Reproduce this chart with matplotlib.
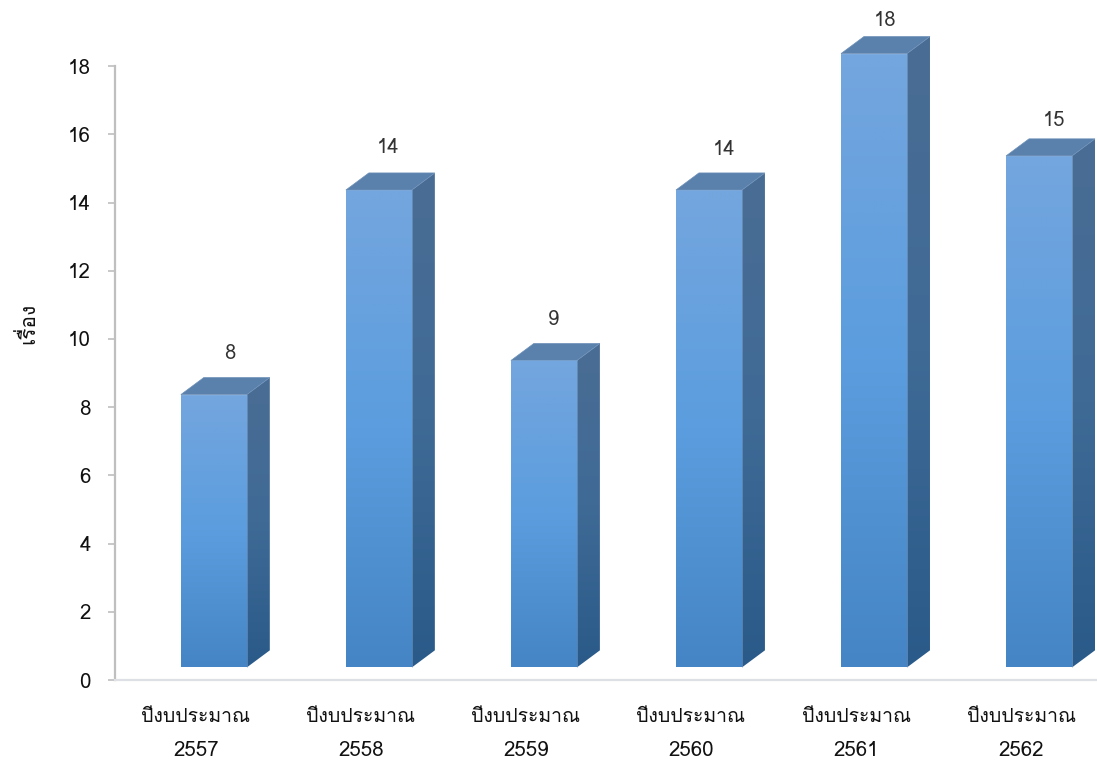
import numpy as np
import matplotlib
matplotlib.use('Agg')
import matplotlib.pyplot as plt
from matplotlib.colors import LinearSegmentedColormap
from matplotlib.patches import Polygon

plt.rcParams['font.family'] = ['Loma', 'Noto Sans Thai', 'DejaVu Sans']

years = ['2557', '2558', '2559', '2560', '2561', '2562']
values = [8, 14, 9, 14, 18, 15]
cat_label = 'ปีงบประมาณ'
y_label = 'เรื่อง'
y_ticks = [0, 2, 4, 6, 8, 10, 12, 14, 16, 18]

# value labels were hand placed in the original, offsets in pixels
label_off_x = [0, -7, -7, -1, -5, -1]
label_off_y = [24, 25, 24, 23, 16, 18]

W, H = 1097, 763
fig = plt.figure(figsize=(W / 100, H / 100), dpi=100)
ax = fig.add_axes([115 / W, (H - 680) / H, (W - 115) / W, 680 / H])

front_cm = LinearSegmentedColormap.from_list('front', ['#74A6DE', '#5B9DDE', '#4585C6'])
side_cm = LinearSegmentedColormap.from_list('side', ['#4A6D94', '#3F6A96', '#2A5A89'])
grad = np.linspace(0, 1, 256).reshape(-1, 1)

# 3d look: shift of the bar, half width, depth
shift = 0.109
half = 0.2
dx = 0.139
dy = 0.5
lift = 0.37

for i, v in enumerate(values):
    l = i + shift - half
    r = i + shift + half
    top = v + lift
    # front face
    im = ax.imshow(grad, cmap=front_cm, aspect='auto', extent=[l, r, lift, top], zorder=2)
    im.set_clip_path(Polygon([(l, lift), (r, lift), (r, top), (l, top)], transform=ax.transData))
    # side face
    im = ax.imshow(grad, cmap=side_cm, aspect='auto', extent=[r, r + dx, lift, top + dy], zorder=2)
    im.set_clip_path(Polygon([(r, lift), (r + dx, lift + dy), (r + dx, top + dy), (r, top)],
                             transform=ax.transData))
    # top face
    ax.add_patch(Polygon([(l, top), (r, top), (r + dx, top + dy), (l + dx, top + dy)],
                         facecolor='#5A80AC', edgecolor='#6C90B8', linewidth=0.5, zorder=3))
    ax.plot([l, r, r], [top, top, lift], color='#8AB4E2', linewidth=0.6, alpha=0.5, zorder=3)
    ax.annotate(str(v), (i + shift + dx * 0.7, top + dy),
                xytext=(label_off_x[i], label_off_y[i]), textcoords='offset pixels',
                ha='center', va='center', fontsize=14.5, color='#333333', annotation_clip=False)
    ax.text(i, -1.08, cat_label, ha='center', va='center', fontsize=14, color='#111111', clip_on=False)
    ax.text(i, -2.08, years[i], ha='center', va='center', fontsize=14.8, color='#111111', clip_on=False)

ax.set_xlim(-0.49, 5.46)
ax.set_ylim(0, 680 / 34.1)
ax.set_xticks([])
ax.set_yticks(y_ticks)
ax.tick_params(axis='y', length=5, width=1.2, color='#BFBFBF', labelsize=14.8, labelcolor='#111111', pad=12.5)

for s in ['top', 'right']:
    ax.spines[s].set_visible(False)
ax.spines['left'].set_color('#BFBFBF')
ax.spines['left'].set_linewidth(1.6)
ax.spines['left'].set_bounds(0, 18)
ax.spines['bottom'].set_color('#DDE1E6')
ax.spines['bottom'].set_linewidth(1.6)

fig.text(27 / W, 1 - 323 / H, y_label, rotation=90, ha='center', va='center', fontsize=15, color='#111111')

fig.savefig('out.png', dpi=100)
